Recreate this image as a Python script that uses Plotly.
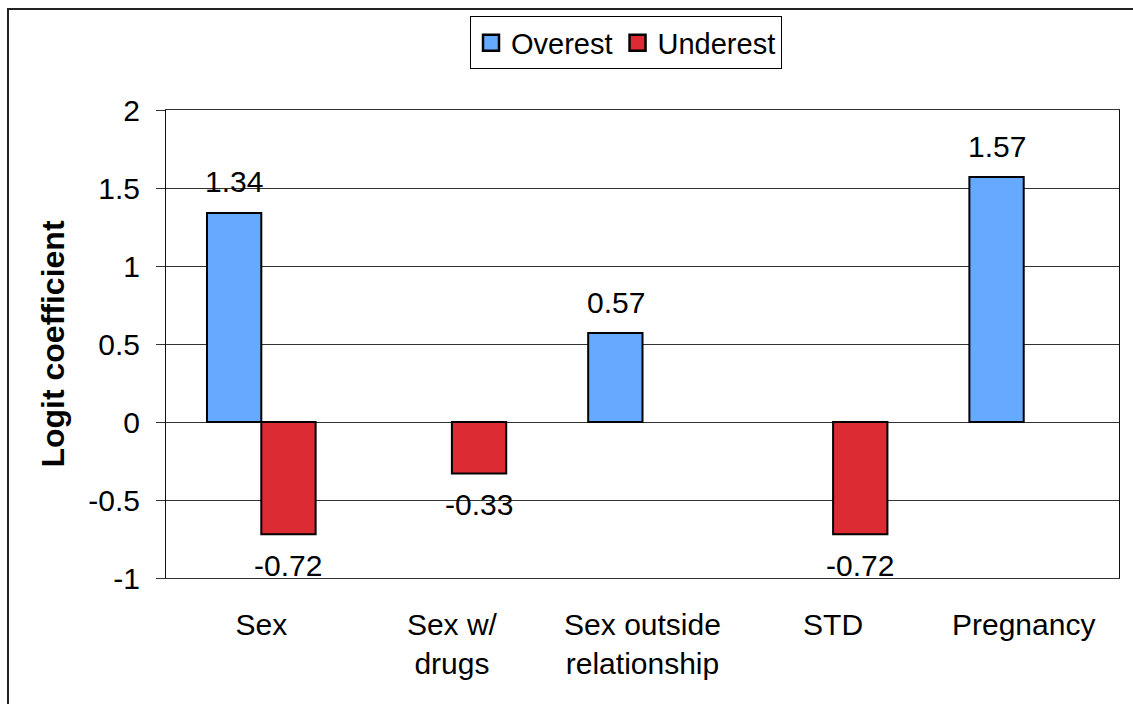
import plotly.graph_objects as go

categories = ["Sex", "Sex w/<br>drugs", "Sex outside<br>relationship", "STD", "Pregnancy"]
overest = [1.34, None, 0.57, None, 1.57]
underest = [-0.72, -0.33, None, -0.72, None]
series_names = ["Overest", "Underest"]
y_ticks = [-1, -0.5, 0, 0.5, 1, 1.5, 2]
y_tick_labels = ["-1", "-0.5", "0", "0.5", "1", "1.5", "2"]

blue = "#66AAFF"
red = "#DD2B33"
FONT = "Liberation Sans, Arial, sans-serif"
FS = 30

fig = go.Figure()
fig.add_trace(go.Bar(x=categories, y=overest, name=series_names[0], marker=dict(color=blue, line=dict(color="black", width=2)), showlegend=False))
fig.add_trace(go.Bar(x=categories, y=underest, name=series_names[1], marker=dict(color=red, line=dict(color="black", width=2)), showlegend=False))
# legend proxies
for nm, col in zip(series_names, [blue, red]):
    fig.add_trace(go.Scatter(x=[None], y=[None], mode="markers", name=nm,
                             marker=dict(symbol="square", size=16, color=col, line=dict(color="black", width=2.5))))

annotations = []
for vals, dx in [(overest, -27), (underest, 27)]:
    for c, v in zip(categories, vals):
        if v is None:
            continue
        annotations.append(dict(x=c, y=v, text=f"{v:.2f}", showarrow=False, xref="x", yref="y",
                                xshift=dx, yshift=31 if v > 0 else -31, yanchor="middle",
                                font=dict(family=FONT, size=FS, color="black")))

fig.update_layout(
    width=1133, height=704,
    margin=dict(l=166, r=14, t=110, b=126),
    paper_bgcolor="white", plot_bgcolor="white",
    barmode="group", bargap=0.43, bargroupgap=0,
    font=dict(family=FONT, size=FS, color="black"),
    showlegend=True,
    legend=dict(orientation="h", x=0.319, y=1.2, xanchor="left", yanchor="top",
                bordercolor="black", borderwidth=1, bgcolor="white",
                font=dict(family=FONT, size=29), itemwidth=30, tracegroupgap=0),
    annotations=annotations,
    shapes=[dict(type="rect", xref="paper", yref="paper", x0=-0.1658, x1=1.2, y0=-0.5, y1=1.2158,
                 line=dict(color="#222", width=2), fillcolor="rgba(0,0,0,0)", layer="below")],
)
fig.update_xaxes(showgrid=False, ticks="", showline=True, linecolor="#333", linewidth=1, mirror=True,
                 tickfont=dict(family=FONT, size=FS), ticklabelstandoff=20)
fig.update_yaxes(range=[-1, 2], tickvals=y_ticks, ticktext=y_tick_labels, showgrid=True, gridcolor="#333", gridwidth=1,
                 ticks="outside", ticklen=9, tickcolor="#333", showline=True, linecolor="#111", linewidth=1, mirror=True,
                 zeroline=False, tickfont=dict(family=FONT, size=FS), ticklabelstandoff=10,
                 title=dict(text="<b>Logit coefficient</b>", font=dict(family=FONT, size=32), standoff=14))
fig.write_html("out.html")
